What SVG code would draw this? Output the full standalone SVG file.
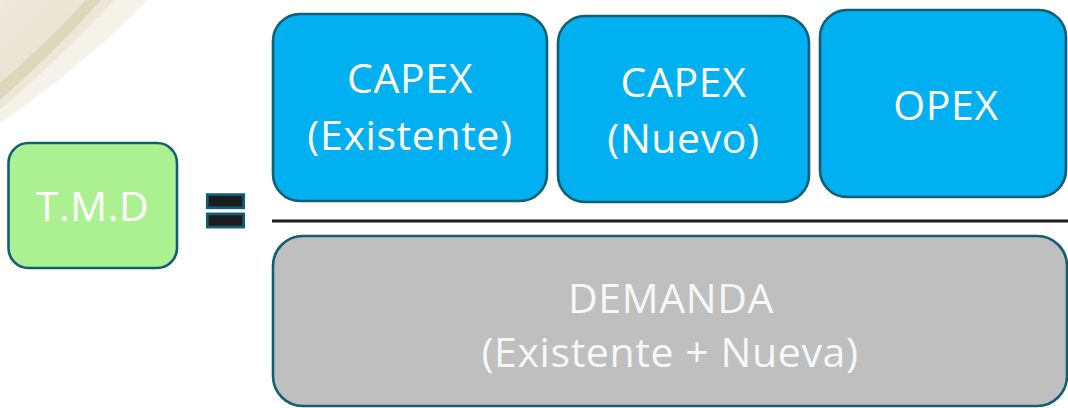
<svg xmlns="http://www.w3.org/2000/svg" width="1068" height="408" viewBox="0 0 1068 408">
  <style>
    .box { stroke: #125f74; stroke-width: 2.6; }
    .blue { fill: #00b0f0; }
    .green { fill: #abf192; }
    .grey { fill: #bfbfbf; }
    .lbl { font-family: "Open Sans", "Noto Sans", "DejaVu Sans", sans-serif; font-size: 41px; letter-spacing: 0.6px; fill: #ffffff; text-anchor: middle; }
    .lblg { fill: #f7f7f7; }
    .eq { fill: #1b1d20; stroke: #125f74; stroke-width: 2.7; }
  </style>
  <defs>
    <linearGradient id="bgIn" x1="0" y1="0" x2="1" y2="1">
      <stop offset="0" stop-color="#eeebdf"/>
      <stop offset="1" stop-color="#e3dfc8"/>
    </linearGradient>
  </defs>
  <rect width="1068" height="408" fill="#ffffff"/>
  <g id="background">
    <path d="M0,0 L148,0 Q80,68 0,123 Z" fill="#f4f2e9"/>
    <path d="M0,0 L114,0 Q62,56 0,110 Z" fill="#ebe8d9"/>
    <path d="M0,0 L101,0 Q55,52 0,100 Z" fill="#ddd7bb"/>
    <path d="M0,0 L86,0 Q46,44 0,83 Z" fill="url(#bgIn)"/>
  </g>
  <g id="connectors">
    <line x1="272" y1="221" x2="1068" y2="221" stroke="#1b1d20" stroke-width="3"/>
  </g>
  <g id="tmd">
    <rect class="box green" x="8.5" y="143" width="168.5" height="125" rx="20"/>
    <text class="lbl" x="92.5" y="220.5">T.M.D</text>
  </g>
  <g id="equals">
    <rect class="eq" x="207.3" y="194.6" width="36.4" height="13.2"/>
    <rect class="eq" x="207.3" y="213.9" width="36.4" height="13.2"/>
  </g>
  <g id="capex-existente">
    <rect class="box blue" x="273" y="14" width="274" height="187" rx="27"/>
    <text class="lbl" x="410" y="93">CAPEX</text>
    <text class="lbl" x="410" y="149.5">(Existente)</text>
  </g>
  <g id="capex-nuevo">
    <rect class="box blue" x="558" y="16" width="251" height="186" rx="27"/>
    <text class="lbl" x="683.5" y="96.5">CAPEX</text>
    <text class="lbl" x="683.5" y="153">(Nuevo)</text>
  </g>
  <g id="opex">
    <rect class="box blue" x="820" y="10" width="246" height="187" rx="27"/>
    <text class="lbl" x="946" y="119.5">OPEX</text>
  </g>
  <g id="demanda">
    <rect class="box grey" x="273" y="236" width="794" height="170" rx="30"/>
    <text class="lbl lblg" x="671" y="312.5">DEMANDA</text>
    <text class="lbl lblg" x="670" y="366.5">(Existente + Nueva)</text>
  </g>
</svg>
